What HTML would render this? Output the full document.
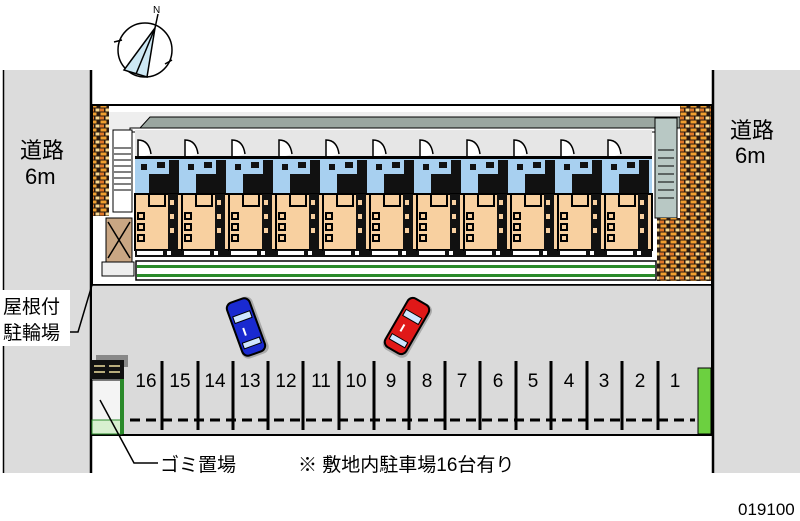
<!DOCTYPE html>
<html><head><meta charset="utf-8"><style>
html,body{margin:0;padding:0;background:#fff;}
svg{display:block;}
text{font-family:"Liberation Sans","Noto Sans CJK JP",sans-serif;}
</style></head><body>
<svg width="800" height="521" viewBox="0 0 800 521" xmlns="http://www.w3.org/2000/svg">
<defs>
<pattern id="brick" width="10" height="8" patternUnits="userSpaceOnUse">
<rect width="10" height="8" fill="#2a1a10"/>
<rect x="0.5" y="0.5" width="6" height="3" fill="#f0a030"/>
<rect x="5.5" y="4.5" width="4" height="3" fill="#f8d890"/>
<rect x="0" y="4.5" width="4" height="3" fill="#e07828"/>
</pattern>
<g id="unit">
<rect x="0" y="0" width="47" height="28" fill="#e6e6e6"/>
<path d="M3 28 V10 Q14 10 16 24" fill="#fff" stroke="#000" stroke-width="1.5"/>
<rect x="0" y="26" width="47" height="40" fill="#a8d0f0"/>
<rect x="0" y="26" width="47" height="3" fill="#000"/>
<rect x="14" y="44" width="24" height="20" fill="#111"/>
<rect x="6" y="34" width="6" height="6" fill="#111"/>
<rect x="22" y="32" width="8" height="6" fill="#111"/>
<rect x="34" y="30" width="10" height="36" fill="#111"/>
<rect x="0" y="64" width="47" height="56" fill="#f8d0a0"/>
<rect x="0" y="64" width="47" height="56" fill="none" stroke="#000" stroke-width="2"/>
<rect x="33" y="64" width="10" height="56" fill="#111"/>
<rect x="35" y="70" width="4" height="5" fill="#f8d0a0"/>
<rect x="35" y="84" width="4" height="5" fill="#f8d0a0"/>
<rect x="35" y="98" width="4" height="5" fill="#f8d0a0"/>
<rect x="14" y="64" width="16" height="12" fill="none" stroke="#000" stroke-width="2"/>
<rect x="3" y="83" width="6" height="6" fill="none" stroke="#000" stroke-width="2"/>
<rect x="3" y="94" width="6" height="6" fill="none" stroke="#000" stroke-width="2"/>
<rect x="3" y="105" width="6" height="6" fill="none" stroke="#000" stroke-width="2"/>
<rect x="0" y="120" width="47" height="7" fill="#111"/>
<rect x="2" y="121" width="26" height="4" fill="#fff"/>
<rect x="32" y="121" width="4" height="4" fill="#fff"/>
</g>
<g id="car">
<rect x="-13" y="-29" width="28" height="60" rx="7" fill="#777" opacity="0.5"/>
<rect x="-12" y="-28" width="24" height="56" rx="6" stroke="#000" stroke-width="2"/>
<rect x="-9" y="-14" width="18" height="7" fill="#cfe6ff" stroke="#000"/>
<rect x="-9" y="14" width="18" height="6" fill="#cfe6ff" stroke="#000"/>
<rect x="-4" y="0" width="2" height="8" fill="#fff"/>
</g>
</defs>

<rect x="3" y="70" width="88" height="403" fill="#dcdcdc"/>
<line x1="3.5" y1="70" x2="3.5" y2="473" stroke="#000" stroke-width="1.5"/>
<line x1="91" y1="70" x2="91" y2="473" stroke="#000" stroke-width="2.5"/>
<rect x="714" y="70" width="86" height="403" fill="#dcdcdc"/>
<line x1="713" y1="70" x2="713" y2="473" stroke="#000" stroke-width="2.5"/>

<rect x="92" y="105" width="620" height="180" fill="#fff" stroke="#000" stroke-width="2"/>
<rect x="92" y="285" width="620" height="150" fill="#dadada"/>
<line x1="92" y1="285" x2="712" y2="285" stroke="#000" stroke-width="1.5"/>
<line x1="92" y1="435" x2="712" y2="435" stroke="#000" stroke-width="2"/>
<line x1="712" y1="105" x2="712" y2="435" stroke="#000" stroke-width="2"/>

<rect x="108" y="112" width="572" height="18" fill="#eee"/>
<polygon points="150,117 680,117 680,128 140,128" fill="#9aa6a0" stroke="#000" stroke-width="1"/>
<rect x="130" y="128" width="530" height="4" fill="#fff" stroke="#000" stroke-width="1"/>
<rect x="93" y="106" width="16" height="110" fill="url(#brick)"/>
<rect x="113" y="130" width="19" height="82" fill="#fff" stroke="#000"/>
<g stroke="#000" stroke-width="1">
<line x1="114" y1="148" x2="131" y2="148"/><line x1="114" y1="154" x2="131" y2="154"/><line x1="114" y1="160" x2="131" y2="160"/><line x1="114" y1="166" x2="131" y2="166"/><line x1="114" y1="172" x2="131" y2="172"/><line x1="114" y1="178" x2="131" y2="178"/><line x1="114" y1="184" x2="131" y2="184"/><line x1="114" y1="190" x2="131" y2="190"/>
</g>
<rect x="106" y="218" width="26" height="44" fill="#c9a683" stroke="#000"/>
<path d="M108 222 L130 258 M130 222 L108 258" stroke="#000" stroke-width="1.5"/>
<rect x="102" y="262" width="32" height="14" fill="#eee" stroke="#000"/>
<rect x="655" y="118" width="22" height="100" fill="#b8c8c4" stroke="#000"/>
<g stroke="#000"><line x1="658" y1="150" x2="674" y2="150"/><line x1="658" y1="158" x2="674" y2="158"/><line x1="658" y1="166" x2="674" y2="166"/><line x1="658" y1="174" x2="674" y2="174"/><line x1="658" y1="182" x2="674" y2="182"/><line x1="658" y1="190" x2="674" y2="190"/><line x1="658" y1="198" x2="674" y2="198"/></g>
<rect x="680" y="106" width="31" height="112" fill="url(#brick)"/>
<rect x="657" y="218" width="54" height="63" fill="url(#brick)"/>

<use href="#unit" x="135" y="130"/>
<use href="#unit" x="182" y="130"/>
<use href="#unit" x="229" y="130"/>
<use href="#unit" x="276" y="130"/>
<use href="#unit" x="323" y="130"/>
<use href="#unit" x="370" y="130"/>
<use href="#unit" x="417" y="130"/>
<use href="#unit" x="464" y="130"/>
<use href="#unit" x="511" y="130"/>
<use href="#unit" x="558" y="130"/>
<use href="#unit" x="605" y="130"/>

<rect x="136" y="261" width="520" height="19" fill="#fff" stroke="#000" stroke-width="1.5"/>
<rect x="137" y="265" width="518" height="3" fill="#2a8a2a"/>
<rect x="137" y="274" width="518" height="3" fill="#2a8a2a"/>

<g transform="translate(246,327) rotate(-20)" fill="#1a2ad0"><use href="#car"/></g>
<g transform="translate(407,326) rotate(30)" fill="#e01818"><use href="#car"/></g>

<line x1="130" y1="420" x2="695" y2="420" stroke="#000" stroke-width="3" stroke-dasharray="10,6"/>
<g stroke="#000" stroke-width="3">
<line x1="162" y1="361" x2="162" y2="430"/><line x1="198" y1="361" x2="198" y2="430"/><line x1="233" y1="361" x2="233" y2="430"/><line x1="268" y1="361" x2="268" y2="430"/><line x1="303" y1="361" x2="303" y2="430"/><line x1="339" y1="361" x2="339" y2="430"/><line x1="374" y1="361" x2="374" y2="430"/><line x1="409" y1="361" x2="409" y2="430"/><line x1="445" y1="361" x2="445" y2="430"/><line x1="480" y1="361" x2="480" y2="430"/><line x1="516" y1="361" x2="516" y2="430"/><line x1="551" y1="361" x2="551" y2="430"/><line x1="587" y1="361" x2="587" y2="430"/><line x1="622" y1="361" x2="622" y2="430"/><line x1="658" y1="361" x2="658" y2="430"/>
</g>
<g font-size="19" fill="#000" text-anchor="middle">
<text x="146" y="387">16</text><text x="180" y="387">15</text><text x="215" y="387">14</text><text x="250" y="387">13</text><text x="286" y="387">12</text><text x="321" y="387">11</text><text x="356" y="387">10</text><text x="391" y="387">9</text><text x="427" y="387">8</text><text x="462" y="387">7</text><text x="498" y="387">6</text><text x="533" y="387">5</text><text x="569" y="387">4</text><text x="604" y="387">3</text><text x="640" y="387">2</text><text x="675" y="387">1</text>
</g>
<rect x="698" y="368" width="13" height="66" fill="#6cd040" stroke="#000"/>

<rect x="92" y="380" width="30" height="55" fill="#f4f4f4" stroke="#000"/>
<rect x="92" y="420" width="30" height="14" fill="#d8f0d0" stroke="#2a8a2a"/>
<rect x="120" y="378" width="4" height="56" fill="#2a8a2a"/>
<rect x="96" y="355" width="32" height="12" fill="#888"/>
<rect x="90" y="360" width="34" height="19" fill="#111"/>
<g stroke="#f0e0a0" stroke-width="1.5"><line x1="94" y1="366" x2="105" y2="366"/><line x1="109" y1="366" x2="120" y2="366"/><line x1="94" y1="372" x2="105" y2="372"/><line x1="109" y1="372" x2="120" y2="372"/></g>

<polyline points="100,400 134,463 158,463" fill="none" stroke="#000" stroke-width="1.5"/>
<polyline points="92,285 78,332 66,332" fill="none" stroke="#000" stroke-width="1.5"/>

<g font-size="22" fill="#000">
<text x="20" y="158">道路</text>
<text x="25" y="184">6m</text>
<text x="730" y="138">道路</text>
<text x="735" y="163">6m</text>
</g>
<rect x="2" y="290" width="68" height="56" fill="#fff"/>
<g font-size="19" fill="#000">
<text x="3" y="313">屋根付</text>
<text x="3" y="339">駐輪場</text>
<text x="160" y="471">ゴミ置場</text>
<text x="298" y="471">※ 敷地内駐車場16台有り</text>
</g>
<text x="738" y="515" font-size="17" fill="#000">019100</text>

<g stroke="#000" stroke-width="1.5" fill="none">
<circle cx="145" cy="50" r="27"/>
<polygon points="155,28 124,70 147,77" fill="#cde8f4"/>
<line x1="155" y1="28" x2="136" y2="74"/>
<line x1="155" y1="28" x2="158" y2="14"/>
<line x1="114" y1="42" x2="122" y2="40"/>
<line x1="165" y1="64" x2="172" y2="60"/>
</g>
<text x="153" y="13" font-size="10" fill="#000">N</text>
</svg>
</body></html>
